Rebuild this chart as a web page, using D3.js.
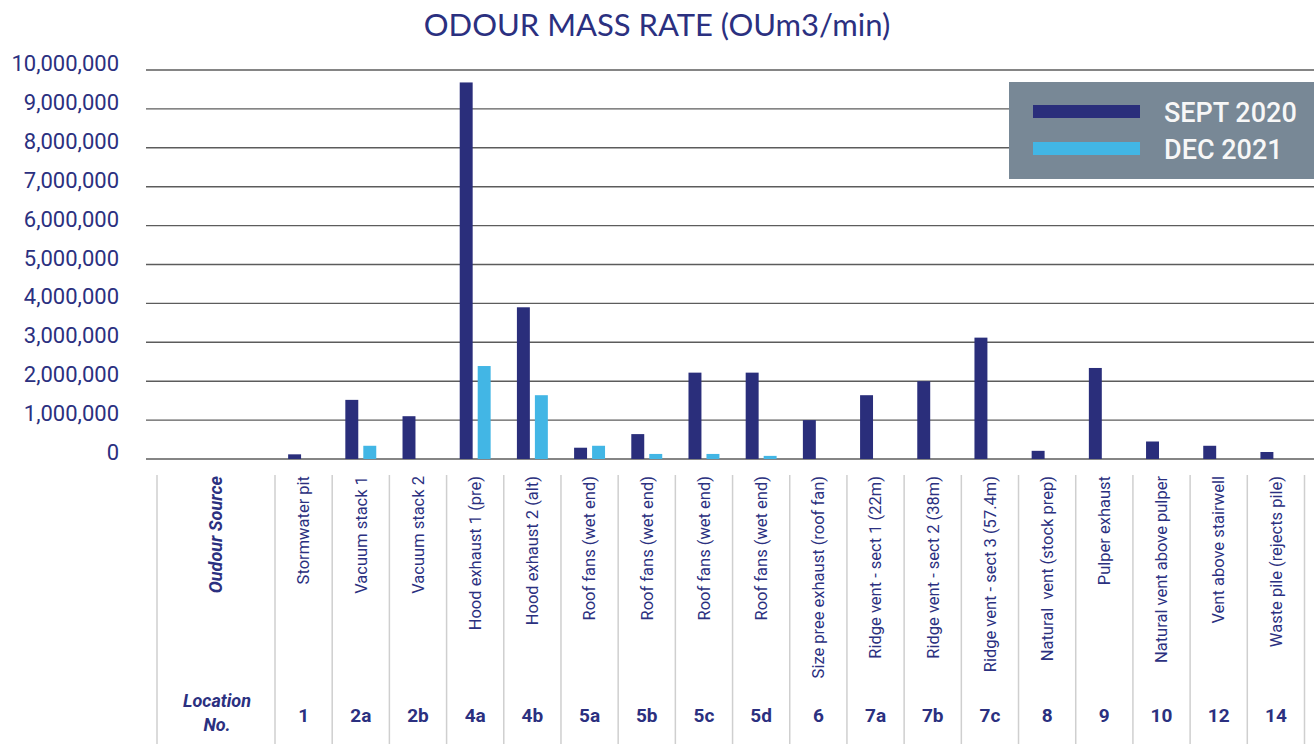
<!DOCTYPE html>
<html>
<head>
<meta charset="utf-8">
<script src="https://cdn.jsdelivr.net/npm/d3@7"></script>
<style>
  html, body { margin: 0; padding: 0; background: #fff; }
  svg { display: block; }
</style>
</head>
<body>
<section></section>
<script>
// location numbers and their source names
const locations = ["1", "2a", "2b", "4a", "4b", "5a", "5b", "5c", "5d", "6", "7a", "7b", "7c", "8", "9", "10", "12", "14"];
const sources = [
  "Stormwater pit", "Vacuum stack 1", "Vacuum stack 2", "Hood exhaust 1 (pre)", "Hood exhaust 2 (alt)",
  "Roof fans (wet end)", "Roof fans (wet end)", "Roof fans (wet end)", "Roof fans (wet end)",
  "Size pree exhaust (roof fan)", "Ridge vent - sect 1 (22m)", "Ridge vent - sect 2 (38m)",
  "Ridge vent - sect 3 (57.4m)", "Natural  vent (stock prep)", "Pulper exhaust",
  "Natural vent above pulper", "Vent above stairwell", "Waste pile (rejects pile)"
];
const series = ["SEPT 2020", "DEC 2021"];
const sept2020 = [120000, 1520000, 1100000, 9680000, 3900000, 290000, 640000, 2220000, 2220000, 1000000, 1640000, 2000000, 3120000, 210000, 2340000, 450000, 340000, 180000];
const dec2021 = [0, 340000, 0, 2390000, 1640000, 340000, 130000, 130000, 80000, 0, 0, 0, 0, 0, 0, 0, 0, 0];
const yTicks = [0, 1000000, 2000000, 3000000, 4000000, 5000000, 6000000, 7000000, 8000000, 9000000, 10000000];

const colors = { "SEPT 2020": "#2a2e7b", "DEC 2021": "#42b6e5" };
const navy = "#2b3080";

const width = 1314, height = 744;

const svg = d3.select("section").append("svg")
  .attr("width", width)
  .attr("height", height);

const rows = locations.map((loc, i) => ({
  loc: loc,
  source: sources[i],
  values: [
    { key: "SEPT 2020", value: sept2020[i] },
    { key: "DEC 2021", value: dec2021[i] }
  ]
}));

const y = d3.scaleLinear().domain([0, 10000000]).range([459, 70]);

const x0 = d3.scaleBand()
  .domain(locations)
  .range([275, 1304.5])
  .paddingInner(0)
  .paddingOuter(0);

const x1 = d3.scaleBand()
  .domain(series)
  .range([0, x0.bandwidth()])
  .paddingInner(0.28)
  .paddingOuter(0.73);

// title
svg.append("text")
  .attr("x", 657)
  .attr("y", 36)
  .attr("text-anchor", "middle")
  .attr("font-family", "Lato, 'Open Sans', sans-serif")
  .attr("font-size", 31)
  .attr("fill", navy)
  .text("ODOUR MASS RATE (OUm3/min)");

// gridlines + y labels
const grid = svg.append("g").attr("class", "grid");
grid.selectAll("line")
  .data(yTicks)
  .enter()
  .append("line")
  .attr("x1", 146)
  .attr("x2", width)
  .attr("y1", d => y(d))
  .attr("y2", d => y(d))
  .attr("stroke", "#5c5c5c")
  .attr("stroke-width", 1.4);

grid.selectAll("text")
  .data(yTicks)
  .enter()
  .append("text")
  .attr("x", 119)
  .attr("y", d => y(d) + 1)
  .attr("text-anchor", "end")
  .attr("font-family", "Roboto, sans-serif")
  .attr("font-size", 22)
  .attr("fill", navy)
  .text(d => d3.format(",")(d));

// bars
const groups = svg.append("g")
  .attr("class", "bars")
  .selectAll("g")
  .data(rows)
  .enter()
  .append("g")
  .attr("transform", d => `translate(${x0(d.loc)},0)`);

groups.selectAll("rect")
  .data(d => d.values.filter(v => v.value > 0))
  .enter()
  .append("rect")
  .attr("x", d => x1(d.key))
  .attr("width", x1.bandwidth())
  .attr("y", d => y(d.value))
  .attr("height", d => y(0) - y(d.value))
  .attr("fill", d => colors[d.key]);

// legend
const legend = svg.append("g").attr("class", "legend");
legend.append("rect")
  .attr("x", 1009)
  .attr("y", 82)
  .attr("width", width - 1009)
  .attr("height", 97)
  .attr("fill", "#788896");

const item = legend.selectAll("g")
  .data(series)
  .enter()
  .append("g")
  .attr("transform", (d, i) => `translate(0,${i * 37})`);

item.append("rect")
  .attr("x", 1033)
  .attr("y", 105)
  .attr("width", 107)
  .attr("height", 13)
  .attr("fill", d => colors[d]);

item.append("text")
  .attr("x", 1164)
  .attr("y", 122)
  .attr("font-family", "Roboto, sans-serif")
  .attr("font-size", 27)
  .attr("font-weight", 500)
  .attr("fill", "#f7f7f7")
  .text(d => d);

// table under the chart
const table = svg.append("g").attr("class", "table");
const tableTop = 475;
const colEdges = [157].concat(locations.map(l => x0(l))).concat([x0.range()[1]]);

table.selectAll("line")
  .data(colEdges)
  .enter()
  .append("line")
  .attr("x1", d => d)
  .attr("x2", d => d)
  .attr("y1", tableTop)
  .attr("y2", height)
  .attr("stroke", "#cfcfcf")
  .attr("stroke-width", 1.5);

const headX = (157 + x0.range()[0]) / 2;

table.append("text")
  .attr("transform", `translate(${headX},${tableTop + 1}) rotate(-90)`)
  .attr("dy", "0.35em")
  .attr("text-anchor", "end")
  .attr("font-family", "Roboto, sans-serif")
  .attr("font-size", 18)
  .attr("font-weight", "bold")
  .attr("font-style", "italic")
  .attr("fill", navy)
  .text("Oudour Source");

table.append("text")
  .attr("x", headX + 1)
  .attr("y", 707)
  .attr("text-anchor", "middle")
  .attr("font-family", "Roboto, sans-serif")
  .attr("font-size", 18)
  .attr("font-weight", "bold")
  .attr("font-style", "italic")
  .attr("fill", navy)
  .text("Location");

table.append("text")
  .attr("x", headX + 1)
  .attr("y", 731)
  .attr("text-anchor", "middle")
  .attr("font-family", "Roboto, sans-serif")
  .attr("font-size", 18)
  .attr("font-weight", "bold")
  .attr("font-style", "italic")
  .attr("fill", navy)
  .text("No.");

table.selectAll(".source")
  .data(rows)
  .enter()
  .append("text")
  .attr("class", "source")
  .attr("transform", d => `translate(${x0(d.loc) + x0.bandwidth() / 2},${tableTop + 1}) rotate(-90)`)
  .attr("dy", "0.35em")
  .attr("text-anchor", "end")
  .attr("font-family", "Roboto, sans-serif")
  .attr("font-size", 16.5)
  .attr("fill", navy)
  .style("white-space", "pre")
  .text(d => d.source);

table.selectAll(".loc")
  .data(rows)
  .enter()
  .append("text")
  .attr("class", "loc")
  .attr("x", d => x0(d.loc) + x0.bandwidth() / 2)
  .attr("y", 722)
  .attr("text-anchor", "middle")
  .attr("font-family", "Roboto, sans-serif")
  .attr("font-size", 19)
  .attr("font-weight", "bold")
  .attr("fill", navy)
  .text(d => d.loc);
</script>
</body>
</html>
